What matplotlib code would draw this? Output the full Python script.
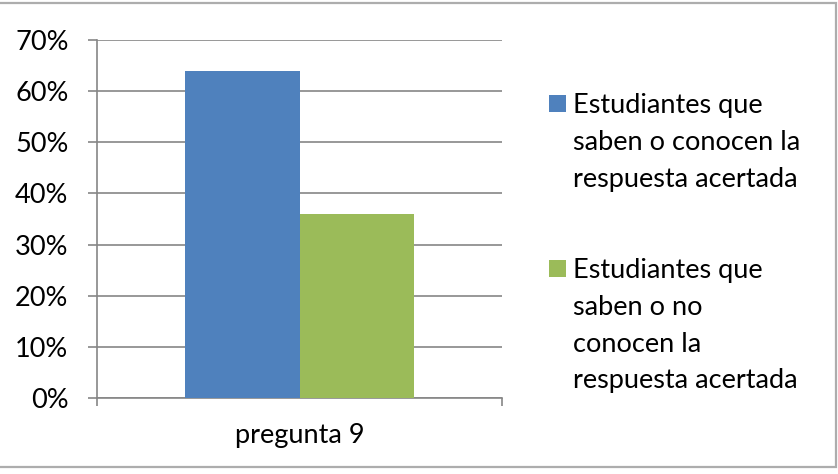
import matplotlib
matplotlib.use("Agg")
import matplotlib.pyplot as plt
from matplotlib.patches import Rectangle
from matplotlib.ticker import FuncFormatter

categories = ["pregunta 9"]
series_names = ["Estudiantes que\nsaben o conocen la\nrespuesta acertada",
                "Estudiantes que\nsaben o no\nconocen la\nrespuesta acertada"]
series_values = [[0.64], [0.36]]
series_colors = ["#4F81BD", "#9BBB59"]
yticks = [0.0, 0.1, 0.2, 0.3, 0.4, 0.5, 0.6, 0.7]

FONT = "Lato"
FS = 19.5
W, H = 838, 474
fig = plt.figure(figsize=(W / 100, H / 100), dpi=100)
fig.patch.set_facecolor("white")

# outer border (left edge cropped off in the reference)
fig.add_artist(Rectangle((-3 / W, 7.5 / H), (836 + 3) / W, (471.5 - 7.5) / H,
                         transform=fig.transFigure, fill=False,
                         edgecolor="#ADADAD", linewidth=1.6))

ax = fig.add_axes([97 / W, 1 - 398 / H, (502 - 97) / W, (398 - 40) / H])
bw = 0.2815
offsets = [-bw / 2, bw / 2]
for vals, off, col in zip(series_values, offsets, series_colors):
    ax.bar([i + off for i in range(len(categories))], vals, width=bw,
           color=col, zorder=3)

ax.set_xlim(-0.5, len(categories) - 0.5)
ax.set_ylim(0, 0.7)
ax.set_yticks(yticks)
ax.yaxis.set_major_formatter(FuncFormatter(lambda v, p: f"{v * 100:.0f}%"))
ax.grid(axis="y", color="#868686", linewidth=1.2, zorder=0)
for s in ["top", "right"]:
    ax.spines[s].set_visible(False)
for s in ["left", "bottom"]:
    ax.spines[s].set_color("#868686")
    ax.spines[s].set_linewidth(1.2)
ax.tick_params(axis="y", length=6.5, width=1.2, color="#868686", pad=14,
               labelsize=FS, labelcolor="#000000")
for lab in ax.get_yticklabels():
    lab.set_fontfamily(FONT)

ax.set_xticks([-0.5 + i for i in range(len(categories) + 1)])
ax.set_xticklabels([])
ax.tick_params(axis="x", which="major", length=5.5, width=1.2, color="#868686")
ax.set_xticks(list(range(len(categories))), minor=True)
ax.set_xticklabels(categories, minor=True, fontsize=FS, fontfamily=FONT)
ax.tick_params(axis="x", which="minor", length=0, pad=18)

# legend (manual, Excel-like: handle aligned with first line)
sq = 17
first_top = [95, 260]
line_gap = 36.8
for name, col, top in zip(series_names, series_colors, first_top):
    fig.add_artist(Rectangle((549 / W, 1 - (top + sq) / H), sq / W, sq / H,
                             transform=fig.transFigure, facecolor=col,
                             edgecolor="none"))
    for k, line in enumerate(name.split("\n")):
        base = top + 18 + k * line_gap
        fig.text(573 / W, 1 - base / H, line, fontsize=FS, fontfamily=FONT,
                 va="baseline", ha="left", color="#000000")

fig.savefig("out.png", dpi=100, facecolor="white")
